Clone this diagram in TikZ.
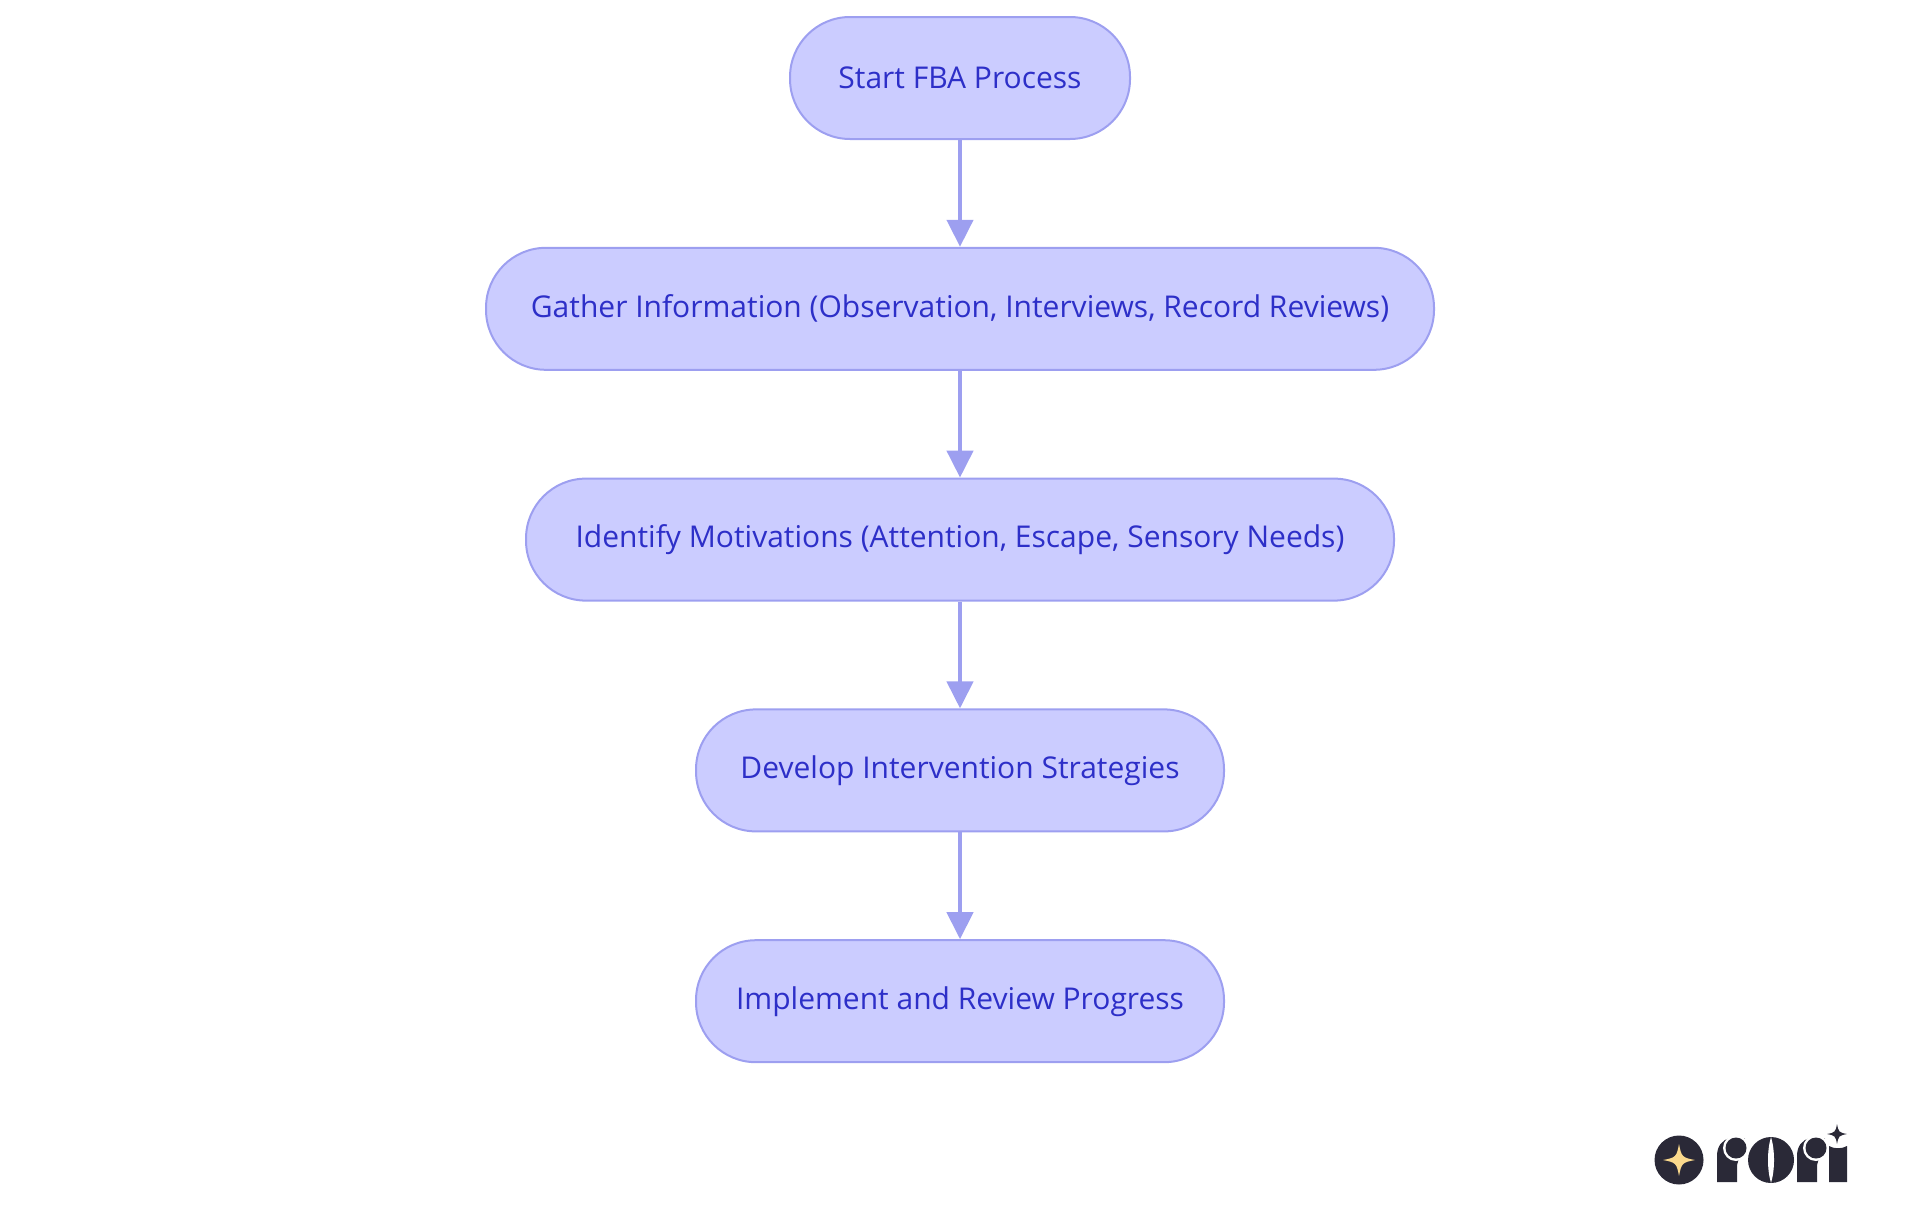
\documentclass[tikz,border=0pt]{standalone}
\usepackage{fontspec}
\setmainfont{Open Sans}
\usetikzlibrary{arrows.meta,positioning}
\definecolor{boxfill}{HTML}{CBCCFF}
\definecolor{boxline}{HTML}{9D9FF0}
\definecolor{boxtext}{HTML}{2D2FC8}
\definecolor{logodark}{HTML}{2A2937}
\definecolor{logogold}{HTML}{FAD98C}
\newcommand{\sparkle}[3]{% centre x, centre y, radius
  (#1-#3,#2) .. controls (#1-0.2*#3,#2-0.15*#3) and (#1-0.15*#3,#2-0.2*#3) .. (#1,#2-#3)
  .. controls (#1+0.15*#3,#2-0.2*#3) and (#1+0.2*#3,#2-0.15*#3) .. (#1+#3,#2)
  .. controls (#1+0.2*#3,#2+0.15*#3) and (#1+0.15*#3,#2+0.2*#3) .. (#1,#2+#3)
  .. controls (#1-0.15*#3,#2+0.2*#3) and (#1-0.2*#3,#2+0.15*#3) .. (#1-#3,#2) -- cycle}
\begin{document}
\begin{tikzpicture}[
    x=0.5pt, y=-0.5pt,
    node distance=53.4pt,
    flowbox/.style={rectangle, draw=boxline, fill=boxfill, line width=1pt, rounded corners=30pt,
        minimum height=61pt, text=boxtext, font=\fontsize{15}{18}\selectfont},
    flowarrow/.style={draw=boxline, line width=2.2pt, -{Triangle[length=13.5pt,width=13pt]}}
]
\useasboundingbox (0,0) rectangle (1920,1215);

\node[flowbox, minimum width=170pt] (start) at (960,78) {Start FBA Process};
\node[flowbox, minimum width=474pt, below=of start] (gather) {Gather Information (Observation, Interviews, Record Reviews)};
\node[flowbox, minimum width=434pt, below=of gather] (identify) {Identify Motivations (Attention, Escape, Sensory Needs)};
\node[flowbox, minimum width=264pt, below=of identify] (develop) {Develop Intervention Strategies};
\node[flowbox, minimum width=264pt, below=of develop] (implement) {Implement and Review Progress};

\draw[flowarrow] (start) -- (gather);
\draw[flowarrow] (gather) -- (identify);
\draw[flowarrow] (identify) -- (develop);
\draw[flowarrow] (develop) -- (implement);

% logo
\fill[logodark] (1679,1160) circle (24.5);
\fill[logogold] \sparkle{1679}{1160}{16};
\fill[logodark] (1717,1182) -- (1717,1156) .. controls (1717,1146) and (1722,1140) .. (1730,1138) -- (1745,1138) -- (1737,1165) -- (1737,1182) -- cycle;
\fill[white] (1736,1148) circle (13);
\fill[logodark] (1736,1148) circle (10.5);
\fill[logodark] (1771,1160) circle (23);
\fill[white] (1771,1137) .. controls (1767,1150) and (1767,1170) .. (1771,1183) .. controls (1775,1170) and (1775,1150) .. (1771,1137) -- cycle;
\fill[logodark] (1797,1182) -- (1797,1156) .. controls (1797,1146) and (1802,1140) .. (1810,1138) -- (1825,1138) -- (1817,1165) -- (1817,1182) -- cycle;
\fill[white] (1816,1148) circle (13);
\fill[logodark] (1816,1148) circle (10.5);
\fill[logodark] (1829,1182) -- (1829,1146) .. controls (1834,1149) and (1842,1149) .. (1847,1146) -- (1847,1182) -- cycle;
\fill[logodark] \sparkle{1837}{1134}{10};
\end{tikzpicture}
\end{document}
